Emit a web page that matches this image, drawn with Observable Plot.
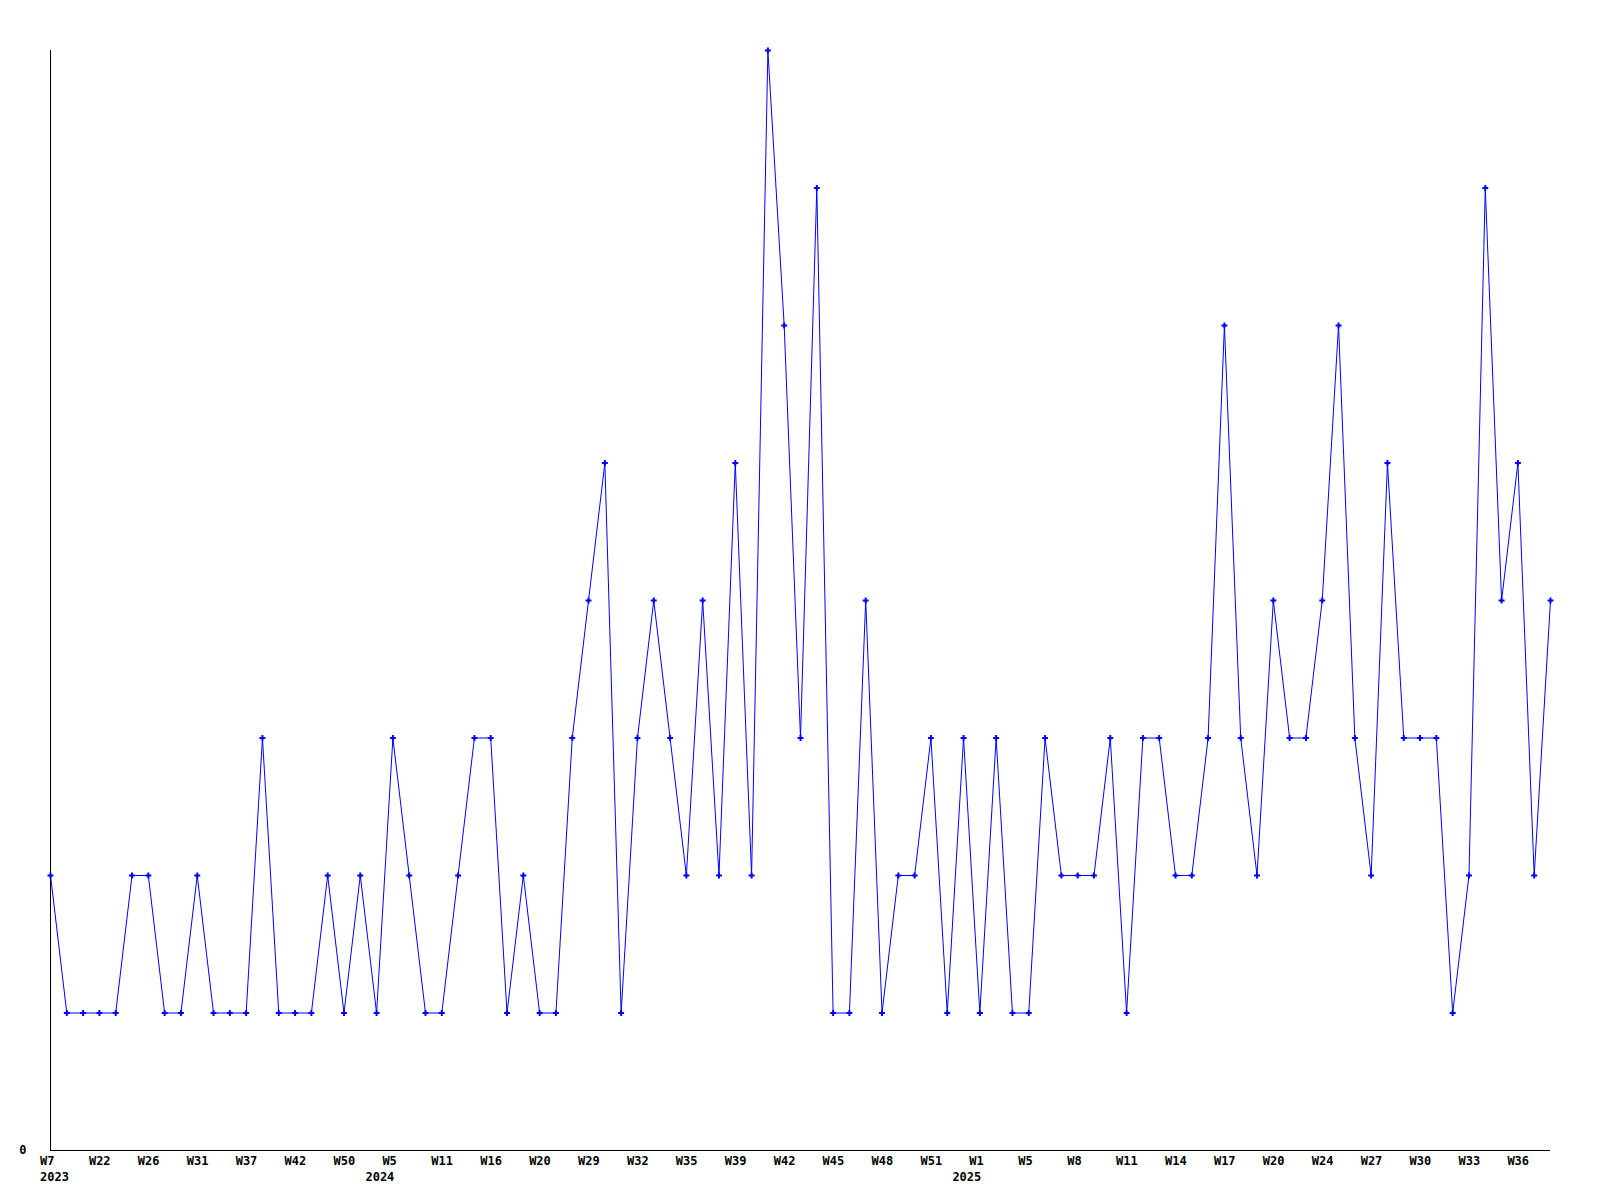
<!DOCTYPE html>
<html>
<head>
<meta charset="utf-8">
<script src="https://cdn.jsdelivr.net/npm/d3@7"></script>
<script src="https://cdn.jsdelivr.net/npm/@observablehq/plot@0.6"></script>
<style>
  html, body { margin: 0; padding: 0; background: #fff; }
  #chart svg { display: block; }
</style>
</head>
<body>
<div id="chart"></div>
<script>
// Weekly counts, one value per plotted week (ordinal sequence)
const values = [
  2,1,1,1,1,2,2,1,1,2,
  1,1,1,3,1,1,1,2,1,2,
  1,3,2,1,1,2,3,3,1,2,
  1,1,3,4,5,1,3,4,3,2,
  4,2,5,2,8,6,3,7,1,1,
  4,1,2,2,3,1,3,1,3,1,
  1,3,2,2,2,3,1,3,3,2,
  2,3,6,3,2,4,3,3,4,6,
  3,2,5,3,3,3,1,2,7,4,
  5,2,4
];

// Tick labels: one for every third week in the sequence
const tickEvery = 3;
const weekTicks = [
  "W7","W22","W26","W31","W37","W42","W50","W5","W11","W16",
  "W20","W29","W32","W35","W39","W42","W45","W48","W51","W1",
  "W5","W8","W11","W14","W17","W20","W24","W27","W30","W33","W36"
];
// Year labels, attached to the tick (by tick number) where each year begins
const years = ["2023", "2024", "2025"];
const yearTickNumber = [0, 7, 19];

const data = values.map((v, i) => ({i, v}));
const ticks = weekTicks.map((label, k) => ({i: k * tickEvery, label}));
const yearData = years.map((year, k) => ({i: yearTickNumber[k] * tickEvery, year}));

const font = "'DejaVu Sans Mono', 'Liberation Mono', monospace";

const chart = Plot.plot({
  width: 1600,
  height: 1200,
  marginLeft: 50,
  marginRight: 50,
  marginTop: 50,
  marginBottom: 50,
  style: {fontFamily: font, fontSize: "12px", fontWeight: "bold", background: "#fff", color: "#000"},
  x: {domain: [0, values.length - 1], axis: null},
  y: {domain: [0, 8], axis: null},
  marks: [
    Plot.ruleX([0], {y1: 0, y2: 8, stroke: "#000", strokeWidth: 1}),
    Plot.ruleY([0], {stroke: "#000", strokeWidth: 1}),
    Plot.axisY({ticks: [0], tickSize: 0, tickPadding: 24, label: null, fontWeight: "bold"}),
    Plot.line(data, {x: "i", y: "v", stroke: "#0000ff", strokeWidth: 1}),
    Plot.dot(data, {x: "i", y: "v", symbol: "cross", r: 2.5, fill: "#0000ff", stroke: "none"}),
    Plot.text(ticks, {x: "i", text: "label", frameAnchor: "bottom", dy: 11, dx: -10.5, textAnchor: "start", lineAnchor: "middle", fill: "#000"}),
    Plot.text(yearData.slice(0, 1), {x: "i", text: "year", frameAnchor: "bottom", dy: 27, dx: -10.5, textAnchor: "start", lineAnchor: "middle", fill: "#000"}),
    Plot.text(yearData.slice(1), {x: "i", text: "year", frameAnchor: "bottom", dy: 27, dx: -13, textAnchor: "middle", lineAnchor: "middle", fill: "#000"})
  ]
});
document.getElementById("chart").appendChild(chart);
</script>
</body>
</html>
